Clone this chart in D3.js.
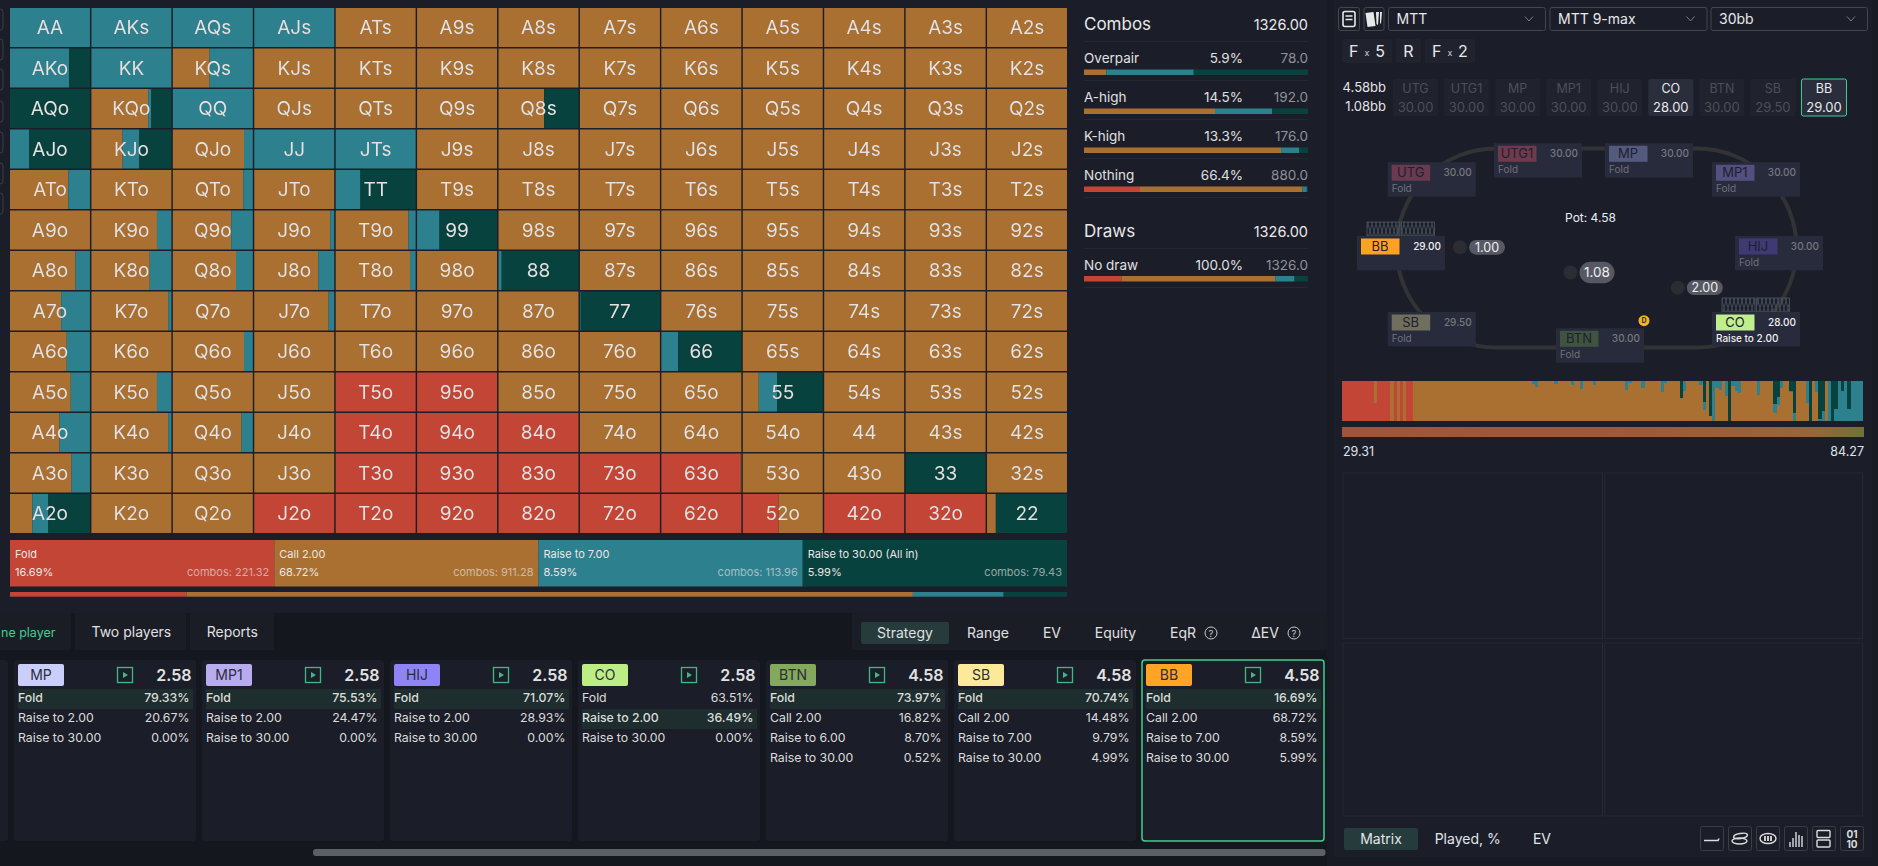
<!DOCTYPE html>
<html>
<head>
<meta charset="utf-8">
<script src="https://cdn.jsdelivr.net/npm/d3@7/dist/d3.min.js"></script>
<style>
  html, body { margin: 0; padding: 0; background: #1b1e29; overflow: hidden; }
  svg { display: block; }
  text { font-family: Inter, "Noto Sans", sans-serif; }
  .cellText { filter: drop-shadow(0.7px 0.7px 0.6px rgba(0, 0, 0, 0.3)); }
</style>
</head>
<body>
<svg id="chart" width="1878" height="866"></svg>
<script>
const ranks = ['A', 'K', 'Q', 'J', 'T', '9', '8', '7', '6', '5', '4', '3', '2'];
const actions = ['fold', 'call', 'raise', 'allin'];
const actionColor = { fold: '#c24536', call: '#a97031', raise: '#2d808e', allin: '#07423f' };

// percent of each hand, call is whatever is left over
const foldPct = [
  [0,0,0,0,0,0,0,0,0,0,0,0,0],
  [0,0,0,0,0,0,0,0,0,0,0,0,0],
  [0,0,0,0,0,0,0,0,0,0,0,0,0],
  [0,0,0,0,0,0,0,0,0,0,0,0,0],
  [0,0,0,0,0,0,0,0,0,0,0,0,0],
  [0,0,0,0,0,0,0,0,0,0,0,0,0],
  [0,0,0,0,0,0,0,0,0,0,0,0,0],
  [0,0,0,0,0,0,0,0,0,0,0,0,0],
  [0,0,0,0,0,0,0,0,0,0,0,0,0],
  [0,0,0,0,100,100,0,0,0,0,0,0,0],
  [0,0,0,0,100,100,100,0,0,0,0,0,0],
  [0,0,0,0,100,100,100,100,99,0,0,0,0],
  [0,0,0,100,100,100,100,100,100,45,100,100,0],
];
const raisePct = [
  [100,100,100,100,0,0,0,0,0,0,0,0,0],
  [74,100,54,0,0,0,0,0,0,0,0,0,0],
  [0,4,100,0,0,0,0,0,0,0,0,0,0],
  [24,21,11,100,100,0,0,0,0,0,0,0,0],
  [27,0,12,0,31,0,0,0,0,0,0,0,0],
  [0,18,27,5,9,28,0,0,0,0,0,0,0],
  [18,27,21,20,7,0,4,0,0,0,0,0,0],
  [36,4,0,7,0,0,0,1,0,0,0,0,0],
  [29,0,11,0,0,0,0,0,21,0,0,0,0],
  [24,18,0,0,0,0,0,0,0,23,0,0,0],
  [38,4,14,0,0,0,0,0,0,0,0,0,0],
  [23,0,0,0,0,0,0,0,0,0,0,0,0],
  [20,0,0,0,0,0,0,0,0,0,0,0,0],
];
const allinPct = [
  [0,0,0,0,0,0,0,0,0,0,0,0,0],
  [26,0,0,0,0,0,0,0,0,0,0,0,0],
  [100,25,0,0,0,0,43,0,0,0,0,0,0],
  [76,40,0,0,0,0,0,0,0,0,0,0,0],
  [0,0,0,0,69,0,0,0,0,0,0,0,0],
  [0,0,0,0,0,72,0,0,0,0,0,0,0],
  [0,0,0,0,0,0,96,0,0,0,0,0,0],
  [0,0,0,0,0,0,0,99,0,0,0,0,0],
  [0,0,0,0,0,0,0,0,79,0,0,0,0],
  [0,0,0,0,0,0,0,0,0,57,0,0,0],
  [0,0,0,0,0,0,0,0,0,0,0,0,0],
  [0,0,0,0,0,0,0,0,0,0,0,100,0],
  [52,0,0,0,0,0,0,0,0,0,0,0,89],
];

const summaryNames = ['Fold', 'Call 2.00', 'Raise to 7.00', 'Raise to 30.00 (All in)'];
const summaryPct = [16.69, 68.72, 8.59, 5.99];
const summaryCombos = [221.32, 911.28, 113.96, 79.43];

const statNames = ['Overpair', 'A-high', 'K-high', 'Nothing'];
const statPct = ['5.9%', '14.5%', '13.3%', '66.4%'];
const statCombos = ['78.0', '192.0', '176.0', '880.0'];
const statFold = [0, 0, 0, 25];
const statCall = [10, 58.5, 88, 72.5];
const statRaise = [39, 25.5, 8, 2];
const statAllin = [51, 16, 4, 0.5];

const cardNames = ['MP', 'MP1', 'HIJ', 'CO', 'BTN', 'SB', 'BB'];
const cardColors = ['#c9cefa', '#b9abf0', '#8f84f6', '#bdee85', '#84a85c', '#fde99a', '#ffa424'];
const cardPot = ['2.58', '2.58', '2.58', '2.58', '4.58', '4.58', '4.58'];
const cardLabels = [
  ['Fold', 'Raise to 2.00', 'Raise to 30.00'],
  ['Fold', 'Raise to 2.00', 'Raise to 30.00'],
  ['Fold', 'Raise to 2.00', 'Raise to 30.00'],
  ['Fold', 'Raise to 2.00', 'Raise to 30.00'],
  ['Fold', 'Call 2.00', 'Raise to 6.00', 'Raise to 30.00'],
  ['Fold', 'Call 2.00', 'Raise to 7.00', 'Raise to 30.00'],
  ['Fold', 'Call 2.00', 'Raise to 7.00', 'Raise to 30.00'],
];
const cardValues = [
  ['79.33%', '20.67%', '0.00%'],
  ['75.53%', '24.47%', '0.00%'],
  ['71.07%', '28.93%', '0.00%'],
  ['63.51%', '36.49%', '0.00%'],
  ['73.97%', '16.82%', '8.70%', '0.52%'],
  ['70.74%', '14.48%', '9.79%', '4.99%'],
  ['16.69%', '68.72%', '8.59%', '5.99%'],
];
const cardHighlight = [0, 0, 0, 1, 0, 0, 0];

const seatNames = ['UTG', 'UTG1', 'MP', 'MP1', 'HIJ', 'CO', 'BTN', 'SB', 'BB'];
const seatStacks = ['30.00', '30.00', '30.00', '30.00', '30.00', '28.00', '30.00', '29.50', '29.00'];
const seatActions = ['Fold', 'Fold', 'Fold', 'Fold', 'Fold', 'Raise to 2.00', 'Fold', 'Fold', ''];

// strategy strip: run end, all in %, raise %, call %, rest is fold
const stripRuns = [
  [32,0,0,0],[35,0,0,55],[48,0,0,0],[52,0,0,100],[55,0,0,0],[58,0,0,100],[61,0,0,0],[64,0,0,100],[71,0,0,0],
  [190,0,0,100],[193,0,7,93],[196,0,15,85],[212,0,0,100],[216,0,7,93],[229,0,0,100],[232,0,10,90],[238,0,0,100],
  [241,0,20,80],[251,0,0,100],[254,0,10,90],[283,0,0,100],[286,0,22,78],[290,0,4,96],[299,0,0,100],[303,0,17,83],
  [319,0,0,100],[322,0,27,73],[325,0,5,95],[338,0,0,100],[341,43,0,57],[344,0,26,74],[357,0,0,100],[361,0,11,89],
  [364,52,20,28],[367,0,0,100],[370,87,0,13],[373,0,100,0],[377,0,17,83],[380,0,22,78],[383,0,0,100],[386,0,37,63],
  [389,100,0,0],[393,0,12,88],[396,0,25,75],[399,0,30,70],[415,0,0,100],[418,0,36,64],[431,0,0,100],[435,57,23,20],
  [438,40,19,41],[441,0,17,83],[447,0,0,100],[451,25,2,73],[454,80,20,0],[464,0,0,100],[467,0,55,45],[470,100,0,0],
  [473,0,0,100],[476,0,27,73],[480,96,4,0],[483,76,24,0],[486,0,0,100],[489,0,100,0],[492,100,0,0],[496,70,30,0],
  [499,0,100,0],[502,26,74,0],[505,0,100,0],[509,70,30,0],[521,0,100,0],
];

const stackChips = ['UTG', 'UTG1', 'MP', 'MP1', 'HIJ', 'CO', 'BTN', 'SB', 'BB'];
const stackValues = ['30.00', '30.00', '30.00', '30.00', '30.00', '28.00', '30.00', '29.50', '29.00'];
const activeChips = ['CO', 'BB'];

const svg = d3.select('#chart');

function txt(g, x, y, s, size, fill, anchor, weight) {
  return g.append('text')
    .attr('x', x)
    .attr('y', y)
    .attr('font-size', size)
    .attr('fill', fill)
    .attr('text-anchor', anchor || 'start')
    .attr('font-weight', weight || 400)
    .text(s);
}

function box(g, x, y, w, h, fill, rx, stroke, sw) {
  return g.append('rect')
    .attr('x', x)
    .attr('y', y)
    .attr('width', w)
    .attr('height', h)
    .attr('fill', fill)
    .attr('rx', rx || 0)
    .attr('stroke', stroke || 'none')
    .attr('stroke-width', sw || 1);
}

// backgrounds
box(svg, 0, 0, 1878, 866, '#1b1e29');
box(svg, 0, 613, 1327, 253, '#14171e');
box(svg, 1327, 0, 551, 866, '#181b23');
box(svg, 1334, 0, 538, 857, '#1b1e29');
box(svg, 852, 613, 475, 37, '#1a1d26');

// clipped toolbar on the far left
const leftIcons = [9, 39, 69, 101, 132, 163, 193];
svg.append('g').selectAll('rect').data(leftIcons).enter().append('rect')
  .attr('x', -8)
  .attr('y', (d) => d)
  .attr('width', 11)
  .attr('height', 21)
  .attr('rx', 3)
  .attr('fill', 'none')
  .attr('stroke', '#3a3d44');

// hand matrix
const cells = [];
ranks.forEach((r, i) => {
  ranks.forEach((c, j) => {
    const hand = i === j ? r + c : i < j ? r + c + 's' : c + r + 'o';
    const fold = foldPct[i][j];
    const raise = raisePct[i][j];
    const allin = allinPct[i][j];
    cells.push({ hand, row: r, col: c, fold, raise, allin, call: 100 - fold - raise - allin });
  });
});

const xCell = d3.scaleBand().domain(ranks).range([10, 1067]).paddingInner(0.018);
const yCell = d3.scaleBand().domain(ranks).range([8, 533]).paddingInner(0.037);
const pctCell = d3.scaleLinear().domain([0, 100]).range([0, xCell.bandwidth()]);

const matrix = svg.append('g');
d3.stack().keys(actions)(cells).forEach((layer) => {
  matrix.append('g')
    .selectAll('rect')
    .data(layer.filter((d) => d[1] > d[0]))
    .enter()
    .append('rect')
    .attr('x', (d) => xCell(d.data.col) + pctCell(d[0]))
    .attr('y', (d) => yCell(d.data.row))
    .attr('width', (d) => pctCell(d[1]) - pctCell(d[0]))
    .attr('height', yCell.bandwidth())
    .attr('fill', actionColor[layer.key]);
});

svg.append('g')
  .attr('class', 'cellText')
  .selectAll('text')
  .data(cells)
  .enter()
  .append('text')
  .attr('x', (d) => xCell(d.col) + xCell.bandwidth() / 2)
  .attr('y', (d) => yCell(d.row) + yCell.bandwidth() / 2)
  .attr('dy', '0.36em')
  .attr('text-anchor', 'middle')
  .attr('font-size', 19)
  .attr('fill', '#e6e2e2')
  .text((d) => d.hand);

// action summary, four equal boxes and the proportional bar under them
const xSummary = d3.scaleBand().domain(summaryNames).range([10, 1067]);
const summary = svg.append('g');
summaryNames.forEach((name, i) => {
  const x = xSummary(name);
  const w = xSummary.bandwidth();
  box(summary, x, 540, w, 46.5, actionColor[actions[i]]);
  txt(summary, x + 5, 558, name, 11, '#ece6e4');
  txt(summary, x + 5, 576, summaryPct[i].toFixed(2) + '%', 11, '#ece6e4');
  txt(summary, x + w - 5, 576, 'combos: ' + summaryCombos[i].toFixed(2), 11, 'rgba(236,232,230,0.62)', 'end');
});

const xShare = d3.scaleLinear().domain([0, d3.sum(summaryPct)]).range([10, 1067]);
let shareAcc = 0;
summaryPct.forEach((p, i) => {
  box(summary, xShare(shareAcc), 592, xShare(p) - xShare(0), 4.7, actionColor[actions[i]]);
  shareAcc += p;
});

// combos and draws panel
const stats = svg.append('g');
const xStat = d3.scaleLinear().domain([0, 100]).range([1084, 1308]);

function statBar(g, y, row) {
  const rows = d3.stack().keys(actions)([row]);
  rows.forEach((layer) => {
    box(g, xStat(layer[0][0]), y, xStat(layer[0][1]) - xStat(layer[0][0]), 5.5, actionColor[layer.key]);
  });
}

function statSep(g, y) {
  box(g, 1084, y, 224, 1, '#252833');
}

txt(stats, 1084, 30, 'Combos', 17, '#e8e8e8');
txt(stats, 1308, 30, '1326.00', 14.5, '#e8e8e8', 'end');
statSep(stats, 41);
const yStat = d3.scaleBand().domain(statNames).range([41, 197]);
statNames.forEach((name, i) => {
  const y = yStat(name);
  txt(stats, 1084, y + 22, name, 13.5, '#e0e0e0');
  txt(stats, 1243, y + 22, statPct[i], 13.5, '#e0e0e0', 'end');
  txt(stats, 1308, y + 22, statCombos[i], 13.5, '#8f929a', 'end');
  statBar(stats, y + 28.5, { fold: statFold[i], call: statCall[i], raise: statRaise[i], allin: statAllin[i] });
  statSep(stats, y + 39);
});
txt(stats, 1084, 237, 'Draws', 17, '#e8e8e8');
txt(stats, 1308, 237, '1326.00', 14.5, '#e8e8e8', 'end');
statSep(stats, 248);
txt(stats, 1084, 270, 'No draw', 13.5, '#e0e0e0');
txt(stats, 1243, 270, '100.0%', 13.5, '#e0e0e0', 'end');
txt(stats, 1308, 270, '1326.0', 13.5, '#8f929a', 'end');
statBar(stats, 276, { fold: summaryPct[0], call: summaryPct[1], raise: summaryPct[2], allin: summaryPct[3] });
statSep(stats, 287);

// bottom tabs, the first tab runs off the left edge in the reference
const tabs = svg.append('g');
box(tabs, -10, 613, 81, 37, '#1a1d26');
box(tabs, 75, 613, 111, 37, '#1a1d26');
box(tabs, 190, 613, 84, 37, '#1a1d26');
txt(tabs, 1, 637, 'ne player', 12.5, '#3fd08d');
txt(tabs, 91.5, 637, 'Two players', 14, '#e0e0e0');
txt(tabs, 206.7, 637, 'Reports', 14, '#e0e0e0');
box(tabs, 861, 622, 88, 22, '#263b3c', 2);
const viewTabs = ['Strategy', 'Range', 'EV', 'Equity', 'EqR', 'ΔEV'];
const viewTabX = [905, 988, 1052, 1115.5, 1183, 1265];
viewTabs.forEach((t, i) => txt(tabs, viewTabX[i], 638, t, 14, '#e0e0e0', 'middle'));

function helpIcon(g, cx, cy) {
  g.append('circle').attr('cx', cx).attr('cy', cy).attr('r', 6)
    .attr('fill', 'none').attr('stroke', '#c8c8c8');
  txt(g, cx, cy + 3.5, '?', 9.5, '#c8c8c8', 'middle');
}
helpIcon(tabs, 1211, 633);
helpIcon(tabs, 1294, 633);

// hand cards under the matrix
const cardsG = svg.append('g');
box(cardsG, -6, 660, 14, 181, '#1b1e28', 3);
const xCard = d3.scaleBand().domain(cardNames).range([14, 1324]).paddingInner(6 / 188);
cardNames.forEach((name, i) => {
  const x = xCard(name);
  const active = name === 'BB';
  const w = xCard.bandwidth();
  box(cardsG, x, 660, w, 181, '#1b1e28', 3, active ? '#3fd08d' : 'none', active ? 1.5 : 0);
  const left = x + 4;
  box(cardsG, left, 664, 46, 22, cardColors[i], 2);
  txt(cardsG, left + 23, 680, name, 14, '#2a2d3a', 'middle');
  box(cardsG, left + 99.5, 667.5, 15, 15, 'none', 0, '#3fb984', 1.3);
  cardsG.append('path')
    .attr('d', `M${left + 105},672 l5,3 l-5,3 z`)
    .attr('fill', '#3fb984');
  txt(cardsG, x + w - 4.5, 681, cardPot[i], 16, '#e2e2e2', 'end', 600);
  const hi = cardHighlight[i];
  cardLabels[i].forEach((lab, k) => {
    const rowY = 689 + k * 20;
    if (k === hi) {
      box(cardsG, left, rowY, w - 7, 20, '#1e2d2d');
    }
    const wt = k === hi ? 500 : 400;
    txt(cardsG, left, rowY + 13, lab, 12.3, '#dcdcdc', 'start', wt);
    txt(cardsG, x + w - 6.5, rowY + 13, cardValues[i][k], 12.3, '#dcdcdc', 'end', wt);
  });
});
box(cardsG, 313, 849, 1012.5, 7, '#5b5f66', 3);

// right panel header: mode icons and dropdowns
const head = svg.append('g');
box(head, 1338.5, 7.5, 21, 23, 'none', 2, '#44464c');
box(head, 1364, 7.5, 20, 23, 'none', 2, '#44464c');
box(head, 1343, 11.5, 12, 15, 'none', 2, '#e8e8e8', 1.6);
head.append('path').attr('d', 'M1345.5,16 h7 M1345.5,19.5 h7').attr('stroke', '#e8e8e8').attr('stroke-width', 1.3);
head.append('path').attr('d', 'M1365.5,13 l8,-1 l2,14 l-8,1 z').attr('fill', '#e8e8e8');
head.append('path').attr('d', 'M1376,12 l3,0 l-1,13 l-1.5,-1 z M1380,12 l2,0 l-1,12 l-1,-1 z').attr('fill', '#e8e8e8');

const dropNames = ['MTT', 'MTT 9-max', '30bb'];
const dropX = [1388.5, 1550, 1711];
const dropW = [157, 157, 156.5];
dropNames.forEach((d, i) => {
  box(head, dropX[i], 7.5, dropW[i], 23, 'none', 2, '#44464c');
  txt(head, dropX[i] + 8, 24, d, 14, '#e8e8e8');
  const cx = dropX[i] + dropW[i] - 16.5;
  head.append('path')
    .attr('d', `M${cx - 4},16.5 l4,4.5 l4,-4.5`)
    .attr('fill', 'none')
    .attr('stroke', '#7a7c85');
});

// action history chips
box(head, 1342, 39, 50, 24, '#20232e', 2);
box(head, 1396, 39, 25, 24, '#20232e', 2);
box(head, 1425, 39, 50, 24, '#20232e', 2);
txt(head, 1349, 57, 'F', 16, '#e8e8e8');
txt(head, 1367, 56, 'x', 9, '#d0d0d0', 'middle');
txt(head, 1380, 57, '5', 16, '#e8e8e8', 'middle');
txt(head, 1408.5, 57, 'R', 16, '#e8e8e8', 'middle');
txt(head, 1432, 57, 'F', 16, '#e8e8e8');
txt(head, 1450, 56, 'x', 9, '#d0d0d0', 'middle');
txt(head, 1463, 57, '2', 16, '#e8e8e8', 'middle');

// stacks row
txt(head, 1386, 92, '4.58bb', 13, '#e4e4e4', 'end');
txt(head, 1386, 111, '1.08bb', 13, '#e4e4e4', 'end');
const xChip = d3.scaleBand().domain(stackChips).range([1393, 1846.5]).paddingInner(0.118);
stackChips.forEach((name, i) => {
  const x = xChip(name);
  const on = activeChips.includes(name);
  const isBB = name === 'BB';
  box(head, x, 79, xChip.bandwidth(), 37, on ? '#2a2d3c' : '#20232e', 2, isBB ? '#3fd08d' : 'none', isBB ? 1 : 0);
  const c = on ? '#eaeaea' : '#4c4f58';
  txt(head, x + xChip.bandwidth() / 2, 92.5, name, 12.5, c, 'middle');
  txt(head, x + xChip.bandwidth() / 2, 112, stackValues[i], 13, c, 'middle');
});

// table
const table = svg.append('g');
table.append('rect')
  .attr('x', 1396.5)
  .attr('y', 148.5)
  .attr('width', 400)
  .attr('height', 199)
  .attr('rx', 99.5)
  .attr('ry', 99.5)
  .attr('fill', 'none')
  .attr('stroke', '#333336')
  .attr('stroke-width', 4);

const seatX = [1387.7, 1494, 1605, 1712, 1735, 1712, 1556, 1387.7, 1357];
const seatY = [162.3, 143.3, 143.3, 162.3, 236, 312, 328.3, 312, 236];
const seatTag = ['#6a3a4f', '#6f3a4b', '#545a7e', '#53507f', '#3f3a73', '#c0ee8c', '#3f533f', '#706e5c', '#ffa224'];

svg.append('defs')
  .append('pattern')
  .attr('id', 'hatch')
  .attr('width', 4)
  .attr('height', 14)
  .attr('patternUnits', 'userSpaceOnUse')
  .append('path')
  .attr('d', 'M0,0 L4,14 M4,0 L0,14')
  .attr('stroke', '#4a5662')
  .attr('stroke-width', 0.8);

function holeCards(g, x, y) {
  box(g, x, y, 33, 14, 'url(#hatch)', 0, '#4a5662', 0.8);
  box(g, x + 34.5, y, 33, 14, 'url(#hatch)', 0, '#4a5662', 0.8);
}
holeCards(table, 1367, 222);
holeCards(table, 1722, 298);

seatNames.forEach((name, i) => {
  const x = seatX[i];
  const y = seatY[i];
  const on = seatActions[i] !== 'Fold';
  box(table, x, y, 88, 34.3, '#282b3b');
  box(table, x + 4, y + 2.5, 38.5, 16, seatTag[i]);
  txt(table, x + 23, y + 15, name, 13, '#1d2030', 'middle');
  txt(table, x + 84, y + 14, seatStacks[i], 10, on ? '#f0f0f0' : '#75787f', 'end', 500);
  if (seatActions[i]) {
    txt(table, x + 4, y + 30, seatActions[i], 10, on ? '#f0f0f0' : '#6e717c', 'start', on ? 500 : 400);
  }
});

txt(table, 1590.5, 222, 'Pot: 4.58', 12, '#e8eef5', 'middle');

function betChip(g, cx, cy, w, h, s, size) {
  g.append('circle').attr('cx', cx).attr('cy', cy).attr('r', 7).attr('fill', '#2b2d33');
  const px = cx + 9;
  box(g, px, cy - h / 2, w, h, '#565963', h / 2);
  txt(g, px + w / 2, cy + size * 0.36, s, size, '#f0f0f0', 'middle');
}
betChip(table, 1460, 247.3, 36, 14.7, '1.00', 12.5);
betChip(table, 1570.5, 272.5, 35, 21.5, '1.08', 13.5);
betChip(table, 1677.8, 287.7, 36, 14.7, '2.00', 12.5);

table.append('circle').attr('cx', 1644).attr('cy', 320.7).attr('r', 5.5).attr('fill', '#f0b429');
txt(table, 1644, 323.4, 'D', 7, '#3a3020', 'middle', 700);

// strategy strip, ordered by equity
const strip = svg.append('g');
const stripRows = stripRuns.map((d, i) => ({
  start: i ? stripRuns[i - 1][0] : 0,
  end: d[0],
  allin: d[1],
  raise: d[2],
  call: d[3],
  fold: 100 - d[1] - d[2] - d[3],
}));
const xStrip = d3.scaleLinear().domain([0, d3.max(stripRuns, (d) => d[0])]).range([1342, 1863]);
const yStrip = d3.scaleLinear().domain([0, 100]).range([381, 421]);
d3.stack().keys(['allin', 'raise', 'call', 'fold'])(stripRows).forEach((layer) => {
  strip.append('g')
    .selectAll('rect')
    .data(layer.filter((d) => d[1] > d[0]))
    .enter()
    .append('rect')
    .attr('x', (d) => xStrip(d.data.start))
    .attr('y', (d) => yStrip(d[0]))
    .attr('width', (d) => xStrip(d.data.end) - xStrip(d.data.start))
    .attr('height', (d) => yStrip(d[1]) - yStrip(d[0]))
    .attr('shape-rendering', 'crispEdges')
    .attr('fill', actionColor[layer.key]);
});

const grad = svg.select('defs')
  .append('linearGradient')
  .attr('id', 'eqGrad');
grad.append('stop').attr('offset', '0%').attr('stop-color', '#a0553a');
grad.append('stop').attr('offset', '60%').attr('stop-color', '#9d5a39');
grad.append('stop').attr('offset', '90%').attr('stop-color', '#96663a');
grad.append('stop').attr('offset', '100%').attr('stop-color', '#6f7236');
box(strip, 1342, 427, 522, 10, 'url(#eqGrad)');
txt(strip, 1343, 456, '29.31', 12.5, '#dfe3ea');
txt(strip, 1864, 456, '84.27', 12.5, '#dfe3ea', 'end');

// empty quad panel
const quad = svg.append('g');
box(quad, 1343, 473, 259.5, 165.5, 'none', 0, '#262932');
box(quad, 1604.7, 473, 258, 165.5, 'none', 0, '#262932');
box(quad, 1343, 643, 259.5, 173, 'none', 0, '#262932');
box(quad, 1604.7, 643, 258, 173, 'none', 0, '#262932');

// bottom right tabs and icon buttons
const foot = svg.append('g');
box(foot, 1344, 828, 74, 22, '#263b3c', 2);
txt(foot, 1381, 844, 'Matrix', 14, '#e0e6ea', 'middle');
txt(foot, 1467.7, 844, 'Played, %', 14, '#e0e6ea', 'middle');
txt(foot, 1542, 844, 'EV', 14, '#e0e6ea', 'middle');

const iconX = [1700.5, 1728.5, 1756.5, 1784.5, 1812.5, 1840.5];
iconX.forEach((x) => box(foot, x, 826.5, 23, 24, 'none', 2, '#3b3d44'));
const ic = '#dcdcdc';
foot.append('path').attr('d', 'M1704,840.5 h14 l1,-2').attr('fill', 'none').attr('stroke', ic).attr('stroke-width', 1.6);
foot.append('ellipse').attr('cx', 1740.5).attr('cy', 836).attr('rx', 7).attr('ry', 2.5).attr('fill', 'none').attr('stroke', ic).attr('stroke-width', 1.4).attr('transform', 'rotate(-10 1740.5 836)');
foot.append('ellipse').attr('cx', 1739.5).attr('cy', 841).attr('rx', 7.5).attr('ry', 3).attr('fill', 'none').attr('stroke', ic).attr('stroke-width', 1.4);
foot.append('ellipse').attr('cx', 1768).attr('cy', 838.5).attr('rx', 8).attr('ry', 5).attr('fill', 'none').attr('stroke', ic).attr('stroke-width', 1.4);
foot.append('path').attr('d', 'M1765,836 v5 M1768,836 v5 M1771,836 v5').attr('stroke', ic).attr('stroke-width', 1.8);
foot.append('path').attr('d', 'M1790,847 v-5 M1793,847 v-9 M1796,847 v-15 M1799,847 v-12 M1802,847 v-11').attr('stroke', ic).attr('stroke-width', 1.4);
box(foot, 1817, 830.5, 13, 7, 'none', 1, ic, 1.4);
box(foot, 1817, 840, 13, 7, 'none', 1, ic, 1.4);
txt(foot, 1852, 837.5, '01', 10, ic, 'middle', 700);
txt(foot, 1852, 847.5, '10', 10, ic, 'middle', 700);
</script>
</body>
</html>
